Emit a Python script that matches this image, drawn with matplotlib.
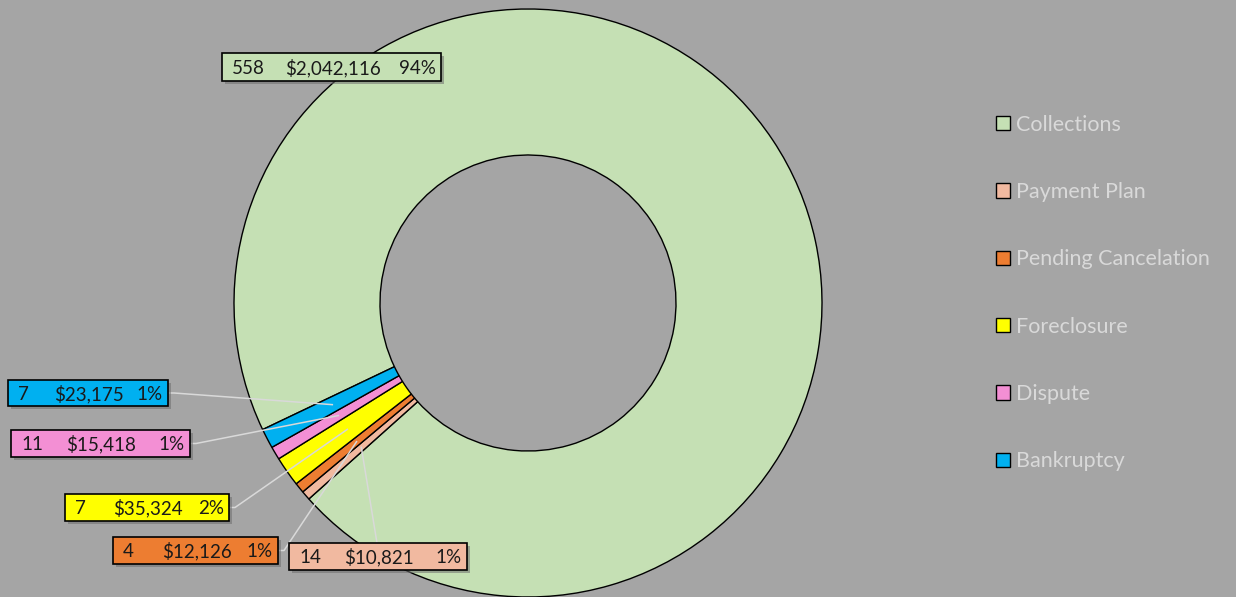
import matplotlib as mpl

mpl.use("Agg")

import matplotlib.pyplot as plt
from matplotlib.patches import Patch, Rectangle
import numpy as np

plt.rcParams["font.family"] = ["Lato", "DejaVu Sans"]

categories = ["Collections", "Payment Plan", "Pending Cancelation", "Foreclosure", "Dispute", "Bankruptcy"]
counts = [558, 14, 4, 7, 11, 7]
dollars = [2042116, 10821, 12126, 35324, 15418, 23175]
pct_labels = ["94%", "1%", "1%", "2%", "1%", "1%"]

COLORS = ["#C5E0B4", "#F1B9A0", "#ED7D31", "#FFFF00", "#F38FD4", "#00B0F0"]
BG = "#A5A5A5"
LEADER = "#D9D9D9"

W, H = 1236, 597
CX, CY, R = 528, 303, 294
START = 205.5

# label boxes in pixel coords: (left, top, width, height)
BOXES = [
    (222, 53, 219, 28),
    (289, 543, 178, 27),
    (113, 537, 165, 27),
    (65, 494, 164, 27),
    (11, 430, 179, 27),
    (8, 380, 160, 26),
]
# where each leader line leaves its box (None = no leader)
ANCHORS = [None, ("top", 88), ("right", 0), ("right", 0), ("right", 0), ("right", 0)]

fig = plt.figure(figsize=(W / 100, H / 100), dpi=100)
fig.patch.set_facecolor(BG)

ax = fig.add_axes([(CX - R) / W, (H - CY - R) / H, 2 * R / W, 2 * R / H])
ax.set_facecolor(BG)
wedges, _ = ax.pie(
    dollars,
    colors=COLORS,
    startangle=START,
    counterclock=False,
    radius=1.0,
    wedgeprops=dict(width=1 - 148 / 294, edgecolor="black", linewidth=1.0),
)
ax.set_xlim(-1, 1)
ax.set_ylim(-1, 1)
ax.set_aspect("equal")
ax.axis("off")

over = fig.add_axes([0, 0, 1, 1])
over.set_xlim(0, W)
over.set_ylim(H, 0)
over.axis("off")

for i, w in enumerate(wedges):
    left, top, bw, bh = BOXES[i]
    mid = np.deg2rad((w.theta1 + w.theta2) / 2)
    px = CX + R * 0.75 * np.cos(mid)
    py = CY - R * 0.75 * np.sin(mid)
    anchor = ANCHORS[i]
    if anchor is not None:
        side, off = anchor
        if side == "right":
            sx, sy = left + bw + 1, top + bh / 2
            over.plot([sx, sx + 5, px], [sy, sy, py], color=LEADER, lw=1.1, zorder=2)
        else:
            sx, sy = left + off, top
            over.plot([sx, px], [sy, py], color=LEADER, lw=1.1, zorder=2)
    over.add_patch(Rectangle((left + 2.5, top + 2.5), bw, bh, facecolor="#6E6E6E", edgecolor="none", alpha=0.55, zorder=3))
    over.add_patch(Rectangle((left, top), bw, bh, facecolor=COLORS[i], edgecolor="black", lw=1.2, zorder=4))
    cy = top + bh / 2 + 1
    over.text(left + 10, cy, f"{counts[i]}", ha="left", va="center", fontsize=13.5, color="#1A1A1A", zorder=5)
    over.text(left + bw / 2 + 1, cy, f"${dollars[i]:,}", ha="center", va="center", fontsize=13.5, color="#1A1A1A", zorder=5)
    over.text(left + bw - 5, cy, pct_labels[i], ha="right", va="center", fontsize=13.5, color="#1A1A1A", zorder=5)

handles = [Patch(facecolor=c, edgecolor="black", lw=1.0) for c in COLORS]
fig.legend(
    handles,
    categories,
    loc="center left",
    bbox_to_anchor=(977 / W, 1 - 293 / H),
    frameon=False,
    fontsize=15.5,
    labelcolor="#D9D9D9",
    handlelength=0.65,
    handleheight=0.65,
    handletextpad=0.25,
    labelspacing=2.2,
)

fig.savefig("out.png", dpi=100, facecolor=BG)
